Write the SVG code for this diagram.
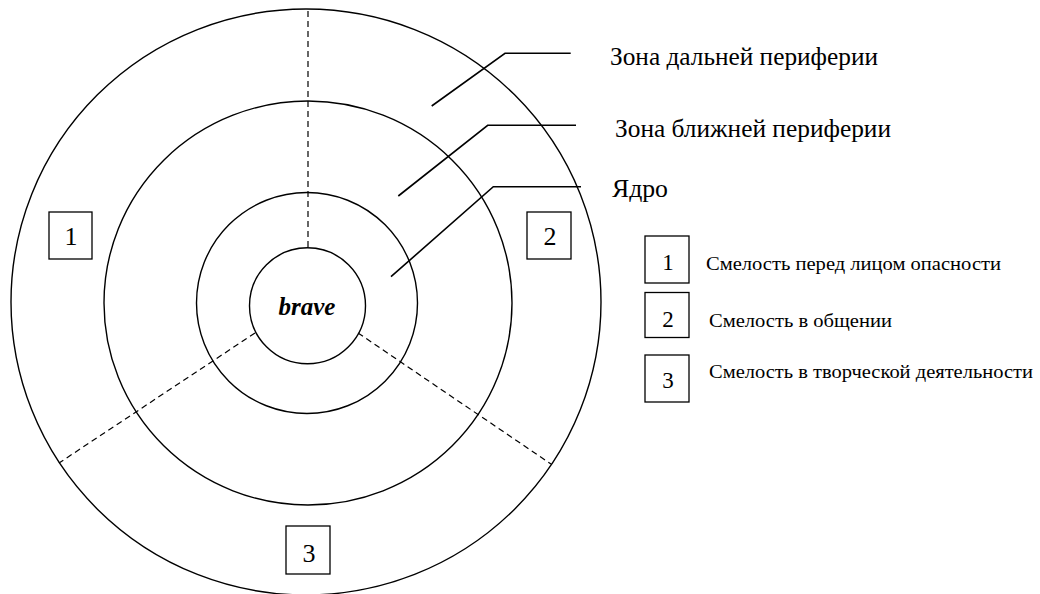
<svg xmlns="http://www.w3.org/2000/svg" width="1040" height="594" viewBox="0 0 1040 594">
<style>
.c{fill:none;stroke:#000;stroke-width:1.4}
.d{fill:none;stroke:#000;stroke-width:1.2;stroke-dasharray:6 4}
.l{fill:none;stroke:#000;stroke-width:1.6}
.b{fill:#fff;stroke:#000;stroke-width:1.3}
text{font-family:'Liberation Serif','Times New Roman',Times,serif;fill:#000}
.z{font-size:25px}
.s{font-size:19px}
.n{font-size:26px;text-anchor:middle}
.m{font-size:23px;text-anchor:middle}
</style>
<rect width="1040" height="594" fill="#fff"/>
<g id="circles">
<ellipse id="outer" class="c" cx="306" cy="302" rx="295" ry="293"/>
<ellipse id="near" class="c" cx="308" cy="303" rx="204" ry="202"/>
<ellipse id="core-ring" class="c" cx="307" cy="303" rx="110.5" ry="110.5"/>
<ellipse id="inner" class="c" cx="307.5" cy="305.8" rx="58" ry="58"/>
</g>
<g id="connectors">
<line class="d" x1="308" y1="11" x2="308" y2="247.5"/>
<line class="d" x1="255" y1="333" x2="59" y2="463"/>
<line class="d" x1="358" y1="333" x2="551" y2="464"/>
<polyline class="l" points="431.7,106 505,53.3 570.7,53.3"/>
<polyline class="l" points="398.3,196 487.7,125.3 576,125.3"/>
<polyline class="l" points="391,276.7 493.3,186.7 581,186.7"/>
</g>
<g id="brave"><text x="307" y="315" font-family="Liberation Serif, serif" font-size="25" font-weight="bold" font-style="italic" text-anchor="middle">brave</text></g>
<g id="box1"><rect class="b" x="49" y="212" width="43" height="47"/><text class="n" x="71" y="245" font-family="Liberation Serif, serif">1</text></g>
<g id="box2"><rect class="b" x="527" y="212" width="44" height="47"/><text class="n" x="550" y="245" font-family="Liberation Serif, serif">2</text></g>
<g id="box3"><rect class="b" x="286" y="526" width="44" height="48"/><text class="n" x="309" y="562" font-family="Liberation Serif, serif">3</text></g>
<g id="label-far"><text class="z" x="610" y="65" textLength="268" lengthAdjust="spacingAndGlyphs" font-family="Liberation Serif, serif">Зона дальней периферии</text></g>
<g id="label-near"><text class="z" x="615" y="137" textLength="276" lengthAdjust="spacingAndGlyphs" font-family="Liberation Serif, serif">Зона ближней периферии</text></g>
<g id="label-core"><text class="z" x="612" y="197" textLength="56" lengthAdjust="spacingAndGlyphs" font-family="Liberation Serif, serif">Ядро</text></g>
<g id="legend1"><rect class="b" x="645" y="236" width="44" height="47"/><text class="m" x="668" y="270" font-family="Liberation Serif, serif">1</text><text class="s" x="706" y="270" textLength="295" lengthAdjust="spacingAndGlyphs" font-family="Liberation Serif, serif">Смелость перед лицом опасности</text></g>
<g id="legend2"><rect class="b" x="645" y="292.5" width="44" height="45"/><text class="m" x="668" y="327" font-family="Liberation Serif, serif">2</text><text class="s" x="709" y="327" textLength="183" lengthAdjust="spacingAndGlyphs" font-family="Liberation Serif, serif">Смелость в общении</text></g>
<g id="legend3"><rect class="b" x="645" y="355" width="44" height="47"/><text class="m" x="668" y="388" font-family="Liberation Serif, serif">3</text><text class="s" x="709" y="378" textLength="324" lengthAdjust="spacingAndGlyphs" font-family="Liberation Serif, serif">Смелость в творческой деятельности</text></g>
</svg>
